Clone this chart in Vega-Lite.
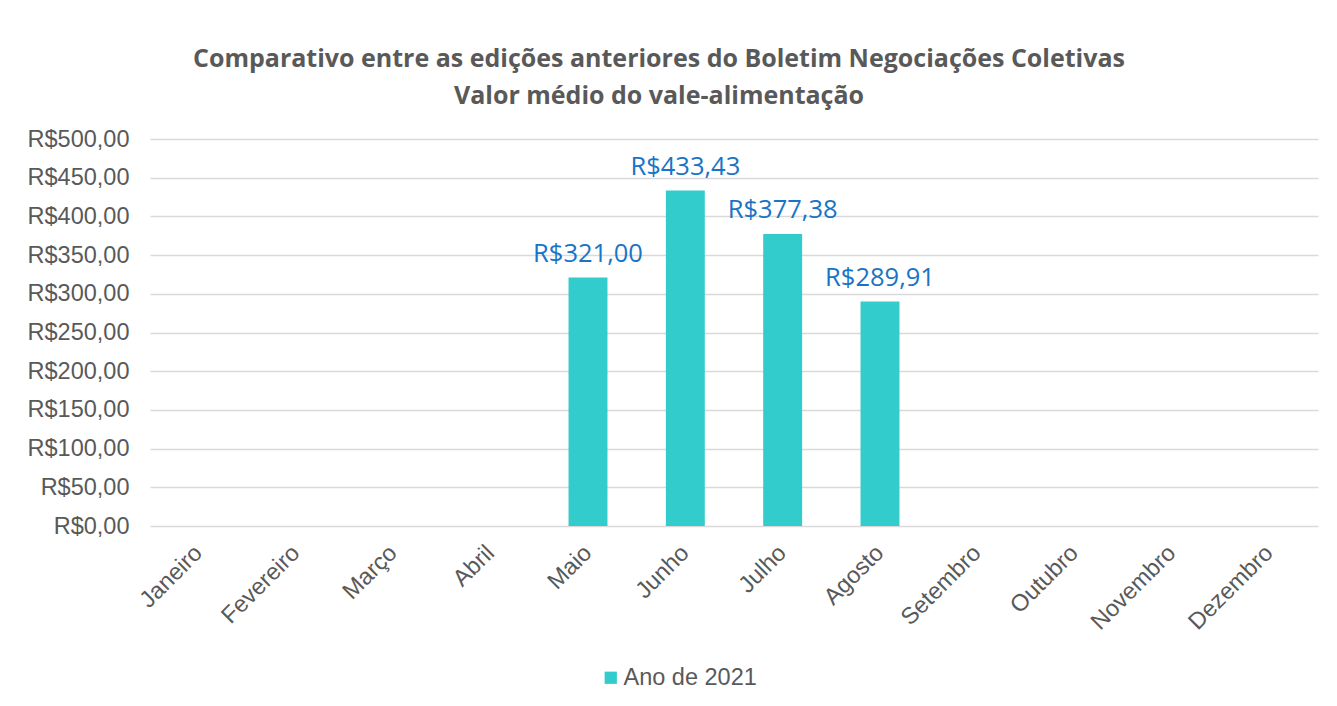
{
  "$schema": "https://vega.github.io/schema/vega-lite/v6.json",
  "autosize": {"type": "none"},
  "width": 1168,
  "height": 387,
  "padding": {"left": 150, "top": 139, "right": 19, "bottom": 180},
  "background": "white",
  "title": {
    "text": ["Comparativo entre as edições anteriores do Boletim Negociações Coletivas", "Valor médio do vale-alimentação"],
    "anchor": "middle",
    "frame": "group",
    "dx": -75,
    "offset": 18,
    "font": "Open Sans",
    "fontSize": 25,
    "fontWeight": "bold",
    "color": "#595959",
    "lineHeight": 37
  },
  "config": {
    "locale": {"number": {"decimal": ",", "thousands": ".", "grouping": [3], "currency": ["R$", ""]}},
    "view": {"stroke": null}
  },
  "data": {
    "values": [
      {"mes": "Maio", "valor": 321.00, "serie": "Ano de 2021"},
      {"mes": "Junho", "valor": 433.43, "serie": "Ano de 2021"},
      {"mes": "Julho", "valor": 377.38, "serie": "Ano de 2021"},
      {"mes": "Agosto", "valor": 289.91, "serie": "Ano de 2021"}
    ]
  },
  "encoding": {
    "x": {
      "field": "mes",
      "type": "nominal",
      "sort": null,
      "scale": {
        "domain": ["Janeiro", "Fevereiro", "Março", "Abril", "Maio", "Junho", "Julho", "Agosto", "Setembro", "Outubro", "Novembro", "Dezembro"],
        "paddingInner": 0.6,
        "paddingOuter": 0.3
      },
      "axis": {
        "title": null,
        "labelAngle": -45,
        "labelAlign": "right",
        "labelBaseline": "middle",
        "labelPadding": 23,
        "labelFont": "Liberation Sans",
        "labelFontSize": 23.5,
        "labelColor": "#595959",
        "domain": false,
        "ticks": false,
        "grid": false
      }
    },
    "y": {
      "field": "valor",
      "type": "quantitative",
      "scale": {"domain": [0, 500], "nice": false},
      "axis": {
        "title": null,
        "values": [0, 50, 100, 150, 200, 250, 300, 350, 400, 450, 500],
        "format": "$,.2f",
        "labelFont": "Liberation Sans",
        "labelFontSize": 23.5,
        "labelColor": "#595959",
        "labelPadding": 21,
        "domain": false,
        "ticks": false,
        "grid": true,
        "gridColor": "#D9D9D9",
        "gridWidth": 1.3
      }
    }
  },
  "layer": [
    {
      "mark": {"type": "bar"},
      "encoding": {
        "color": {
          "field": "serie",
          "type": "nominal",
          "scale": {"range": ["#33CCCC"]},
          "legend": {
            "title": null,
            "orient": "none",
            "legendX": 449,
            "legendY": 527,
            "direction": "horizontal",
            "symbolType": "square",
            "symbolSize": 150,
            "symbolStrokeWidth": 0,
            "labelFont": "Liberation Sans",
            "labelFontSize": 23.5,
            "labelColor": "#595959",
            "labelOffset": 1
          }
        }
      }
    },
    {
      "mark": {"type": "text", "baseline": "bottom", "dy": -11, "font": "Open Sans", "fontSize": 25.5, "color": "#1874C6"},
      "encoding": {
        "text": {"field": "valor", "type": "quantitative", "format": "$,.2f"}
      }
    }
  ]
}
